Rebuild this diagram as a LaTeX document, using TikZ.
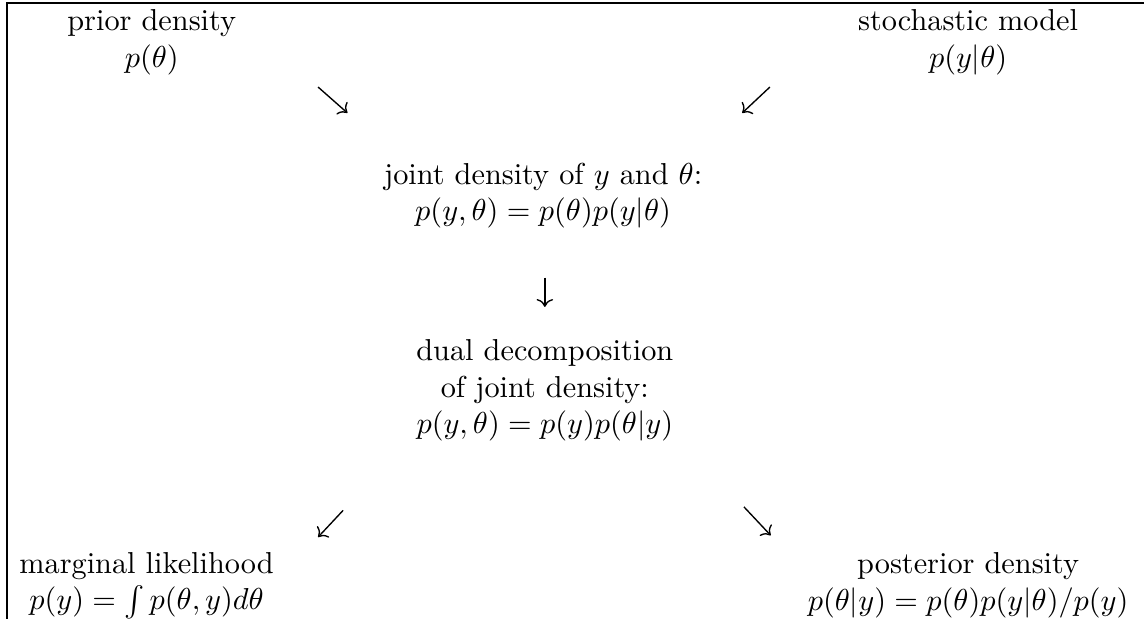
\documentclass[tikz,border=0pt]{standalone}
\usetikzlibrary{arrows.meta}

\begin{document}
\begin{tikzpicture}[
  txt/.style={align=center, inner sep=0pt},
  flow/.style={draw=black, line width=0.45pt, -{Computer Modern Rightarrow}},
  frame/.style={draw=black, line width=0.6pt}
]
\useasboundingbox (0,0) rectangle (13.27,-7.18);
\coordinate (tl) at (0.08,-0.035);
\coordinate (tr) at (13.27,-0.035);
\coordinate (bl) at (0.08,-7.18);
\draw[frame] (tr) -- (tl) -- (bl);
\node[txt] (prior) at (1.76,-0.49) {prior density\\$p(\theta)$};
\node[txt] (model) at (11.23,-0.49) {stochastic model\\$p(y|\theta)$};
\node[txt] (joint) at (6.30,-2.27) {joint density of $y$ and $\theta$:\\$p(y,\theta)=p(\theta)p(y|\theta)$};
\node[txt] (dual) at (6.32,-4.53) {dual decomposition\\of joint density:\\$p(y,\theta)=p(y)p(\theta|y)$};
\node[txt] (marg) at (1.70,-6.79) {marginal likelihood\\$p(y)=\int p(\theta,y)d\theta$};
\node[txt] (post) at (11.23,-6.79) {posterior density\\$p(\theta|y)=p(\theta)p(y|\theta)/p(y)$};
\coordinate (a1s) at (3.69,-1.01); \coordinate (a1e) at (4.03,-1.31);
\coordinate (a2s) at (8.93,-1.01); \coordinate (a2e) at (8.61,-1.31);
\coordinate (a3s) at (6.32,-3.22); \coordinate (a3e) at (6.32,-3.56);
\coordinate (a4s) at (3.98,-5.92); \coordinate (a4e) at (3.69,-6.23);
\coordinate (a5s) at (8.63,-5.88); \coordinate (a5e) at (8.94,-6.21);
\draw[flow] (a1s) -- (a1e);
\draw[flow] (a2s) -- (a2e);
\draw[flow] (a3s) -- (a3e);
\draw[flow] (a4s) -- (a4e);
\draw[flow] (a5s) -- (a5e);
\end{tikzpicture}
\end{document}
